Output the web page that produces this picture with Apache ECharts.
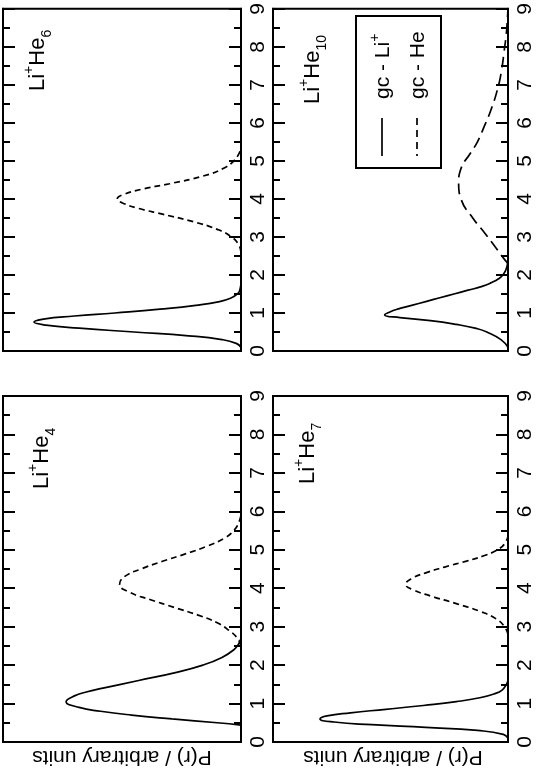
<!DOCTYPE html>
<html><head><meta charset="utf-8">
<script src="https://cdn.jsdelivr.net/npm/echarts@6/dist/echarts.min.js"></script>
<style>html,body{margin:0;padding:0;background:#fff}#c{width:536px;height:769px}</style>
</head><body><div id="c"></div>
<script>
// r axis (distance) tick labels
const rTickLabels = ['0','1','2','3','4','5','6','7','8','9'];

// Li+He6 (top-left)
const he6LiR = [0.1,0.2,0.3,0.4,0.5,0.6,0.68,0.76,0.84,0.92,1.0,1.1,1.2,1.3,1.4,1.5,1.6,1.8];
const he6LiP = [0,0.02,0.08,0.22,0.45,0.68,0.82,0.87,0.83,0.7,0.53,0.34,0.19,0.09,0.04,0.015,0.005,0];
const he6HeR = [2.6,2.8,3.0,3.2,3.4,3.6,3.75,3.9,4.0,4.1,4.25,4.4,4.6,4.8,5.0,5.2,5.35];
const he6HeP = [0,0.01,0.04,0.1,0.2,0.33,0.43,0.5,0.52,0.5,0.42,0.3,0.16,0.075,0.03,0.008,0];

// Li+He10 (top-right)
const he10LiR = [0.1,0.3,0.5,0.6,0.7,0.8,0.88,0.95,1.02,1.1,1.2,1.3,1.4,1.5,1.6,1.7,1.8,1.9,2.0,2.15,2.4];
const he10LiP = [0,0.03,0.09,0.14,0.22,0.33,0.46,0.525,0.505,0.47,0.41,0.35,0.29,0.23,0.17,0.11,0.07,0.04,0.022,0.008,0];
const he10HeR = [2.3,2.45,2.7,3.08,3.5,4.0,4.41,4.8,5.2,5.5,5.85,6.3,6.9,7.4,7.86,8.3,8.6,9.0];
const he10HeP = [0,0.02,0.05,0.096,0.15,0.2,0.21,0.2,0.16,0.13,0.105,0.075,0.044,0.027,0.017,0.008,0.004,0];

// Li+He4 (bottom-left)
const he4LiR = [0.44,0.5,0.6,0.7,0.8,0.9,1.05,1.2,1.3,1.4,1.6,1.8,2.0,2.2,2.4,2.55,2.7];
const he4LiP = [0,0.1,0.29,0.46,0.59,0.68,0.735,0.7,0.65,0.58,0.43,0.28,0.16,0.08,0.03,0.01,0];
const he4HeR = [2.5,2.7,2.9,3.1,3.3,3.5,3.7,3.9,4.1,4.3,4.5,4.7,4.9,5.1,5.3,5.5,5.7,5.9];
const he4HeP = [0,0.015,0.05,0.1,0.18,0.28,0.38,0.47,0.51,0.49,0.42,0.33,0.23,0.14,0.07,0.03,0.01,0];

// Li+He7 (bottom-right)
const he7LiR = [0.1,0.2,0.3,0.38,0.45,0.52,0.6,0.68,0.76,0.85,0.95,1.05,1.15,1.25,1.35,1.5,1.6];
const he7LiP = [0,0.02,0.13,0.35,0.58,0.74,0.8,0.77,0.67,0.52,0.36,0.22,0.12,0.06,0.025,0.007,0];
const he7HeR = [2.8,3.0,3.2,3.4,3.6,3.8,3.95,4.1,4.25,4.4,4.55,4.7,4.85,5.0,5.15,5.35];
const he7HeP = [0,0.015,0.05,0.12,0.22,0.33,0.4,0.435,0.41,0.35,0.27,0.18,0.1,0.045,0.015,0];

const FONT = 'Liberation Sans, Arial, sans-serif';
const panels = [
  {left:3,   top:6,   width:238, height:345, li:[he6LiR,he6LiP],  he:[he6HeR,he6HeP],  dash:[6,4],  title:'6',  tx:38,  ty:91},
  {left:273, top:6,   width:239, height:345, li:[he10LiR,he10LiP], he:[he10HeR,he10HeP], dash:[11,6], title:'10', tx:313, ty:104},
  {left:3,   top:396, width:238, height:346, li:[he4LiR,he4LiP],  he:[he4HeR,he4HeP],  dash:[6,4],  title:'4',  tx:42,  ty:489},
  {left:273, top:396, width:239, height:346, li:[he7LiR,he7LiP],  he:[he7HeR,he7HeP],  dash:[6,4],  title:'7',  tx:308, ty:484}
];

const grid = [], xAxis = [], yAxis = [], series = [], graphic = [];
const tickStyle = {color:'#000', width:2};
const titleRich = {a:{fontSize:22, fontFamily:FONT, lineHeight:32, verticalAlign:'middle'},
                   s:{fontSize:14, fontFamily:FONT, verticalAlign:'top', lineHeight:15},
                   b:{fontSize:14, fontFamily:FONT, verticalAlign:'bottom', lineHeight:15}};
panels.forEach((p, i) => {
  grid.push({left:p.left, top:p.top, width:p.width, height:p.height, show:true, borderColor:'#000', borderWidth:2, backgroundColor:'transparent'});
  xAxis.push({gridIndex:i, type:'value', min:0, max:1, inverse:true, show:false});
  yAxis.push({gridIndex:i, type:'value', position:'right', min:0, max:9, interval:1,
    axisLine:{show:true, lineStyle:{color:'#000', width:2}},
    axisTick:{show:true, inside:true, length:12, lineStyle:tickStyle},
    minorTick:{show:true, splitNumber:2, length:7, lineStyle:tickStyle},
    splitLine:{show:false},
    axisLabel:{rotate:90, fontSize:21, color:'#000', fontFamily:FONT, margin:7,
      formatter: v => rTickLabels[Math.round(v)]}});
  yAxis.push({gridIndex:i, type:'value', position:'left', min:0, max:9, interval:1,
    axisLine:{show:true, lineStyle:{color:'#000', width:2}},
    axisTick:{show:true, inside:true, length:12, lineStyle:tickStyle},
    minorTick:{show:true, splitNumber:2, length:7, lineStyle:tickStyle},
    splitLine:{show:false}, axisLabel:{show:false}});
  const mk = (rr, pp) => rr.map((r, k) => [pp[k], r]);
  series.push({type:'line', xAxisIndex:i, yAxisIndex:2*i, data:mk(p.li[0], p.li[1]), symbol:'none', smooth:0.5,
    lineStyle:{color:'#000', width:1.7, type:'solid'}});
  series.push({type:'line', xAxisIndex:i, yAxisIndex:2*i, data:mk(p.he[0], p.he[1]), symbol:'none', smooth:0.5,
    lineStyle:{color:'#000', width:1.7, type:p.dash}});
  graphic.push({type:'text', x:p.tx, y:p.ty, rotation:Math.PI/2, style:{
    text:'{a|Li}{s|+}{a|He}{b|' + p.title + '}', fill:'#000', textAlign:'left', textVerticalAlign:'middle',
    rich:titleRich}});
});

// y-label (upside-down) under each column
[[122, 757], [393, 757]].forEach(([x, y]) => graphic.push({type:'text', x, y, rotation:Math.PI,
  style:{text:'P(r) / arbitrary units', fontSize:21, fontFamily:FONT, fill:'#000', textAlign:'center', textVerticalAlign:'middle'}}));

// legend box
graphic.push({type:'rect', shape:{x:356, y:16, width:85, height:152}, style:{fill:'#fff', stroke:'#000', lineWidth:2}});
graphic.push({type:'line', shape:{x1:382, y1:118, x2:382, y2:156}, style:{stroke:'#000', lineWidth:1.7}});
graphic.push({type:'line', shape:{x1:417, y1:118, x2:417, y2:156}, style:{stroke:'#000', lineWidth:1.7, lineDash:[7,5]}});
graphic.push({type:'text', x:383, y:99, rotation:Math.PI/2, style:{text:'{a|gc - Li}{s|+}', fill:'#000', textAlign:'left', textVerticalAlign:'middle',
  rich:{a:{fontSize:21, fontFamily:FONT, lineHeight:30, verticalAlign:'middle'}, s:{fontSize:14, fontFamily:FONT, verticalAlign:'top', lineHeight:15}}}});
graphic.push({type:'text', x:418, y:99, rotation:Math.PI/2, style:{text:'gc - He', fontSize:21, fontFamily:FONT, fill:'#000', textAlign:'left', textVerticalAlign:'middle'}});

const chart = echarts.init(document.getElementById('c'), null, {renderer:'canvas'});
chart.setOption({animation:false, backgroundColor:'#fff', grid, xAxis, yAxis, series, graphic});
</script></body></html>
